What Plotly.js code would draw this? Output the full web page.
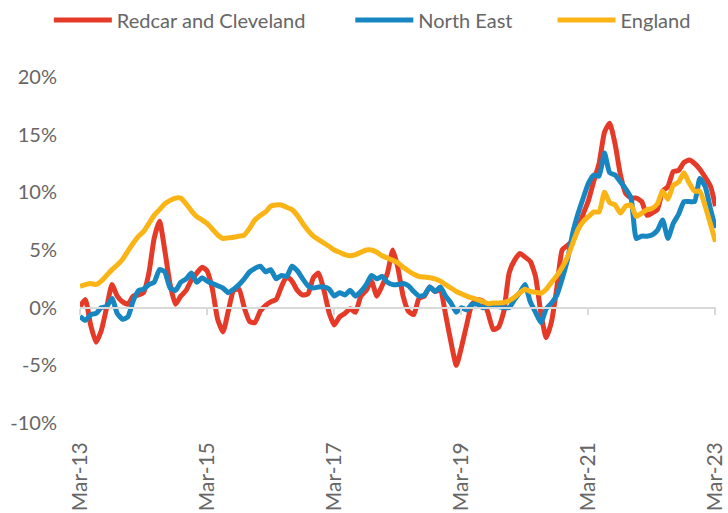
<!DOCTYPE html>
<html>
<head>
<meta charset="utf-8">
<script src="https://cdn.plot.ly/plotly-3.0.1.min.js"></script>
<style>html,body{margin:0;padding:0;background:#fff;}#chart{width:728px;height:513px;}</style>
</head>
<body>
<div id="chart"></div>
<script>
// Monthly growth rates (%), Mar-2013 to Mar-2023
const seriesNames = ["Redcar and Cleveland", "North East", "England"];
const tickLabels = ["Mar-13", "Mar-15", "Mar-17", "Mar-19", "Mar-21", "Mar-23"];
const tickDates = ["2013-03-01", "2015-03-01", "2017-03-01", "2019-03-01", "2021-03-01", "2023-03-01"];
const yTickVals = [-10, -5, 0, 5, 10, 15, 20];
const yTickLabels = ["-10%", "-5%", "0%", "5%", "10%", "15%", "20%"];

const redcar = [0.1,0.7,-1.5,-3.0,-2.0,0.0,2.0,1.0,0.5,0.3,
  1.0,1.1,1.3,3.0,6.0,7.5,5.0,2.0,0.3,1.0,
  1.5,2.4,3.0,3.5,3.2,1.6,-1.0,-2.1,-0.3,1.5,
  1.6,0.0,-1.2,-1.3,-0.3,0.2,0.5,0.7,1.8,2.7,
  2.3,1.5,1.1,1.2,2.6,3.0,1.5,-0.5,-1.5,-0.8,
  -0.5,-0.1,-0.4,1.0,1.5,2.3,1.0,1.9,3.0,5.0,
  3.5,1.0,-0.3,-0.6,0.8,1.0,1.8,1.4,1.5,-0.6,
  -3.0,-5.0,-3.5,-1.5,0.3,0.7,0.6,-0.4,-1.9,-1.7,
  -0.3,3.0,4.1,4.7,4.4,4.0,2.7,-0.5,-2.6,-1.2,
  1.8,5.0,5.4,5.8,6.9,8.2,9.3,11.0,12.5,15.2,
  16.0,14.2,11.5,9.9,9.5,9.5,9.2,8.0,8.2,8.5,
  10.1,10.5,11.8,11.9,12.6,12.8,12.5,12.0,11.3,10.5,
  8.8];

const northEast = [-0.75,-1.1,-0.6,-0.5,0.0,0.1,0.8,-0.5,-1.0,-0.8,
  0.6,1.5,1.6,2.0,2.2,3.3,3.1,1.7,1.5,2.2,
  2.5,3.0,2.2,2.6,2.3,2.1,1.9,1.7,1.3,1.6,
  2.0,2.5,3.1,3.4,3.6,3.1,3.3,2.5,2.8,2.7,
  3.6,3.2,2.5,1.9,1.7,1.8,1.8,1.6,1.0,1.3,
  1.1,1.5,1.0,1.4,2.0,2.8,2.5,2.7,2.2,2.0,
  2.0,2.1,1.9,1.4,1.0,1.1,1.8,1.4,1.8,1.0,
  0.4,-0.4,0.0,-0.2,0.3,0.3,0.0,0.1,0.2,0.1,
  0.0,0.0,0.7,1.3,2.0,0.5,-0.4,-1.3,-0.1,0.4,
  1.1,2.5,4.2,6.5,8.2,9.6,10.8,11.5,11.4,13.4,
  11.7,11.5,10.9,10.3,9.5,6.0,6.2,6.2,6.3,6.7,
  7.6,6.0,7.3,8.1,9.2,9.2,9.2,11.2,10.5,8.5,
  6.9];

const england = [1.85,2.0,2.1,2.0,2.3,2.8,3.3,3.7,4.2,4.9,
  5.6,6.2,6.6,7.3,8.0,8.5,9.0,9.3,9.5,9.5,
  9.0,8.4,7.9,7.6,7.3,6.8,6.3,6.0,6.05,6.1,
  6.2,6.3,6.9,7.6,8.0,8.3,8.8,8.9,8.9,8.7,
  8.5,8.0,7.3,6.7,6.2,5.9,5.6,5.3,5.0,4.8,
  4.6,4.5,4.6,4.8,5.0,5.0,4.8,4.5,4.3,4.1,
  3.9,3.5,3.2,2.9,2.7,2.65,2.6,2.5,2.3,2.0,
  1.7,1.4,1.2,1.0,0.85,0.7,0.55,0.35,0.4,0.4,
  0.45,0.6,0.9,1.3,1.6,1.4,1.35,1.25,1.6,2.2,
  2.8,3.5,4.4,5.6,6.8,7.5,7.9,8.3,8.3,10.0,
  9.1,8.9,8.2,8.8,8.9,7.9,8.2,8.5,8.6,9.0,
  10.1,9.4,10.6,10.9,11.7,10.8,10.1,10.1,8.8,7.2,
  5.7];

// Month categories Mar-2013 .. Mar-2023
const months = [];
for (let i = 0; i < redcar.length; i++) {
  const d = new Date(Date.UTC(2013, 2 + i, 1));
  months.push(d.toISOString().slice(0, 10));
}

const colors = ["#E53A28", "#1887C1", "#FBB416"];
const font = "Lato, 'Open Sans', sans-serif";
const textColor = "#666666";
const xRange = ["2013-03-01", "2023-03-04"];

const seriesValues = [redcar, northEast, england];
const legendIds = ["legend", "legend2", "legend3"];
const traces = seriesValues.map((vals, i) => ({
  type: "scatter", mode: "lines",
  x: months, y: vals, name: seriesNames[i],
  line: {color: colors[i], width: 5, shape: "spline", smoothing: 0.5},
  legend: legendIds[i], hoverinfo: "skip"
}));

function legendAt(x) {
  return {orientation: "h", x: x, xanchor: "left", y: 1.165, yanchor: "middle",
    font: {family: font, size: 20, color: textColor}, bgcolor: "rgba(0,0,0,0)",
    itemwidth: 58, traceorder: "normal"};
}

const layout = {
  width: 728, height: 513,
  margin: {l: 80, r: 12, t: 77, b: 90, pad: 0, autoexpand: false},
  paper_bgcolor: "#fff", plot_bgcolor: "#fff",
  showlegend: true,
  legend: legendAt(-0.049),
  legend2: legendAt(0.425),
  legend3: legendAt(0.743),
  xaxis: {
    type: "date", range: xRange,
    tickvals: tickDates, ticktext: tickLabels, tickangle: -90,
    showgrid: false, zeroline: false, showline: false, ticks: "",
    ticklabelstandoff: 14, ticklabeloverflow: "allow", automargin: false,
    tickfont: {family: font, size: 21, color: textColor}
  },
  xaxis2: {
    type: "date", range: xRange, overlaying: "x",
    anchor: "free", position: 1 / 3, side: "bottom",
    tickvals: tickDates, showticklabels: false, ticks: "outside", ticklen: 6,
    tickwidth: 2, tickcolor: "#d9d9d9", showline: true, linecolor: "#d9d9d9",
    linewidth: 2, showgrid: false, zeroline: false
  },
  yaxis: {
    range: [-10, 20], tickvals: yTickVals, ticktext: yTickLabels,
    showgrid: false, zeroline: false, showline: false, ticks: "",
    ticklabelstandoff: 22, automargin: false,
    tickfont: {family: font, size: 20, color: textColor}
  }
};

// empty trace so the zero baseline axis (xaxis2) is drawn
traces.push({type: "scatter", mode: "lines", x: [months[0], months[months.length - 1]],
  y: [null, null], xaxis: "x2", yaxis: "y", showlegend: false, hoverinfo: "skip"});

Plotly.newPlot("chart", traces, layout, {displayModeBar: false, staticPlot: true});
</script>
</body>
</html>
